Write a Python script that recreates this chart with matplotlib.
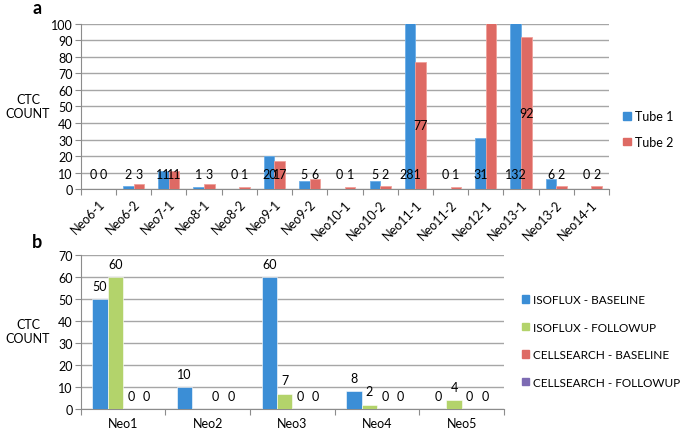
import numpy as np
import matplotlib
matplotlib.use('Agg')
import matplotlib.pyplot as plt
from matplotlib.patches import Patch

plt.rcParams['font.family'] = ['Lato', 'DejaVu Sans']

# panel a data
samples_a = ['Neo6-1', 'Neo6-2', 'Neo7-1', 'Neo8-1', 'Neo8-2', 'Neo9-1', 'Neo9-2', 'Neo10-1',
             'Neo10-2', 'Neo11-1', 'Neo11-2', 'Neo12-1', 'Neo13-1', 'Neo13-2', 'Neo14-1']
tube1 = [0, 2, 11, 1, 0, 20, 5, 0, 5, 281, 0, 31, 132, 6, 0]
tube2 = [0, 3, 11, 3, 1, 17, 6, 1, 2, 77, 1, 140, 92, 2, 2]
tube2_shown = [True] * 11 + [False] + [True] * 3   # Neo12-1 label hidden behind bar

# panel b data
patients_b = ['Neo1', 'Neo2', 'Neo3', 'Neo4', 'Neo5']
iso_base = [50, 10, 60, 8, 0]
iso_follow = [60, None, 7, 2, 4]
cs_base = [0, 0, 0, 0, 0]
cs_follow = [0, 0, 0, 0, 0]
series_b = ['ISOFLUX - BASELINE', 'ISOFLUX - FOLLOWUP', 'CELLSEARCH - BASELINE', 'CELLSEARCH - FOLLOWUP']

blue = '#3b8ed6'
red = '#de6a64'
green = '#b3d36b'
purple = '#7d6bb3'
grid_c = '#a6a6a6'
fs = 9

fig = plt.figure(figsize=(6.85, 4.35), dpi=100)
axa = fig.add_axes([0.118, 0.563, 0.771, 0.38])
axb = fig.add_axes([0.118, 0.0575, 0.618, 0.354])


def style(ax, n):
    for s in ['top', 'right']:
        ax.spines[s].set_visible(False)
    for s in ['left', 'bottom']:
        ax.spines[s].set_color('#8c8c8c')
    ax.yaxis.grid(True, color=grid_c, lw=1)
    ax.set_axisbelow(True)
    ax.set_xlim(0, n)
    ax.set_xticks(np.arange(n + 1))
    ax.set_xticklabels([])
    ax.tick_params(axis='x', which='major', length=4, color='#8c8c8c')
    ax.tick_params(axis='y', length=4, color='#8c8c8c', labelsize=fs, pad=2)
    ax.set_xticks(np.arange(n) + 0.5, minor=True)
    ax.tick_params(axis='x', which='minor', length=0)


# ---- panel a ----
n = len(samples_a)
x = np.arange(n) + 0.5
w = 0.3
axa.bar(x - w / 2, tube1, w, color=blue, edgecolor='#6aaee8', lw=0.6, zorder=3)
axa.bar(x + w / 2, tube2, w, color=red, edgecolor='#f0a09a', lw=0.6, zorder=3)
axa.set_ylim(0, 100)
axa.set_yticks(range(0, 101, 10))
style(axa, n)
axa.set_xticklabels(samples_a, minor=True, rotation=45, ha='right', rotation_mode='anchor', fontsize=fs)
axa.tick_params(axis='x', which='minor', pad=6)


def lab_y(v):
    return v / 2 if 60 < v <= 100 else 9


for i in range(n):
    axa.text(x[i] - w / 2, lab_y(tube1[i]), str(tube1[i]), ha='center', va='center', fontsize=fs, zorder=4)
    if tube2_shown[i]:
        axa.text(x[i] + w / 2, lab_y(tube2[i]), str(tube2[i]), ha='center', va='center', fontsize=fs, zorder=4)

fig.text(28 / 685, 1 - 107 / 435, 'CTC\nCOUNT', ha='center', va='center', fontsize=fs)
fig.text(37 / 685, 1 - 8 / 435, 'a', fontsize=13, fontweight='bold', ha='center', va='center')
fig.legend(handles=[Patch(color=blue, label='Tube 1'), Patch(color=red, label='Tube 2')],
           loc='center left', bbox_to_anchor=(0.91, 1 - 130 / 435), frameon=False, fontsize=fs,
           handlelength=0.6, handleheight=0.6, handletextpad=0.3, labelspacing=1.1,
           borderaxespad=0, borderpad=0)

# ---- panel b ----
m = len(patients_b)
xb = np.arange(m) + 0.5
wb = 0.183
cols = [blue, green, red, purple]
data_b = [iso_base, iso_follow, cs_base, cs_follow]
for k, (vals, c) in enumerate(zip(data_b, cols)):
    off = (k - 1.5) * wb
    for i, v in enumerate(vals):
        if v is None:
            continue
        axb.bar(xb[i] + off, v, wb, color=c, edgecolor='white', lw=0.4, zorder=3)
        axb.text(xb[i] + off, v + 6, str(v), ha='center', va='center', fontsize=fs, zorder=4)
axb.set_ylim(0, 70)
axb.set_yticks(range(0, 71, 10))
style(axb, m)
axb.set_xticklabels(patients_b, minor=True, fontsize=fs)
axb.tick_params(axis='x', which='minor', pad=6)

fig.text(28 / 685, 1 - 332 / 435, 'CTC\nCOUNT', ha='center', va='center', fontsize=fs)
fig.text(37 / 685, 1 - 243 / 435, 'b', fontsize=13, fontweight='bold', ha='center', va='center')
fig.legend(handles=[Patch(color=c, label=s) for c, s in zip(cols, series_b)],
           loc='center left', bbox_to_anchor=(0.762, 1 - 342 / 435), frameon=False, fontsize=8.5,
           handlelength=0.6, handleheight=0.6, handletextpad=0.3, labelspacing=1.4,
           borderaxespad=0, borderpad=0)

fig.savefig('out.png', dpi=100)
